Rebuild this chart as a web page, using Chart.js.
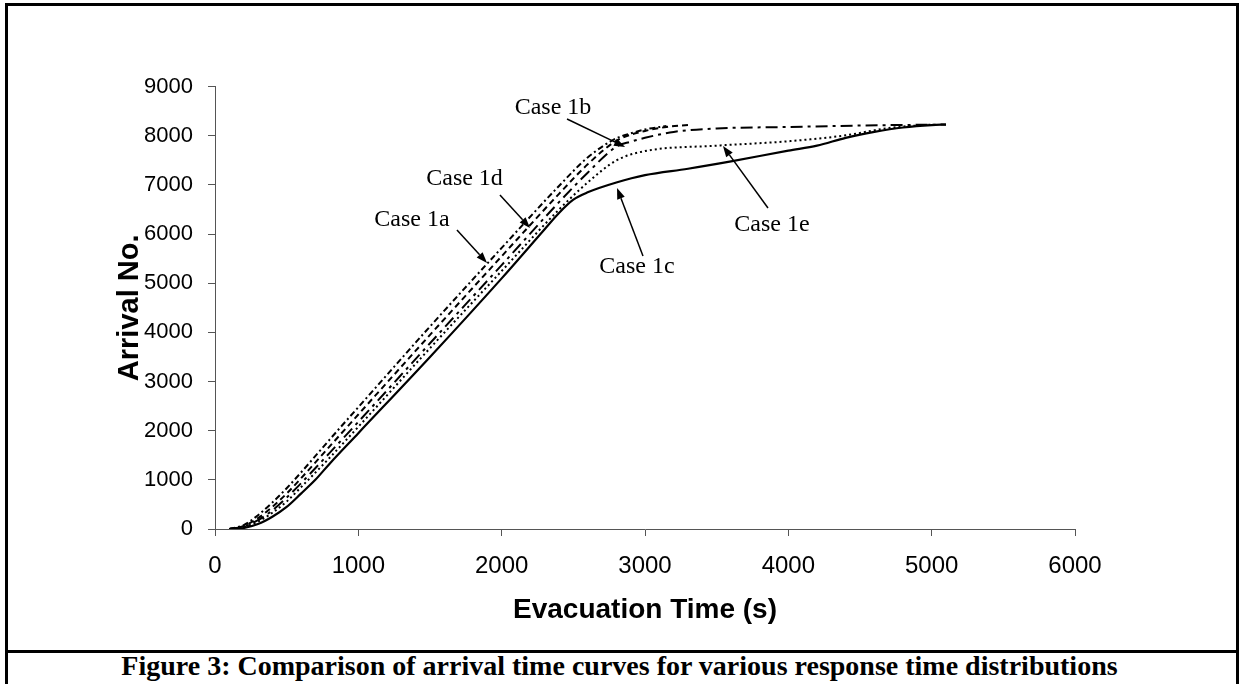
<!DOCTYPE html>
<html>
<head>
<meta charset="utf-8">
<script src="https://cdn.jsdelivr.net/npm/chart.js@4.4.1/dist/chart.umd.min.js"></script>
<style>
    html, body { margin: 0; padding: 0; background: #fff; }
    #page { position: relative; width: 1239px; height: 684px; overflow: hidden; background: #fff; }
    #frame { position: absolute; left: 5px; top: 3px; width: 1228px; height: 690px;
             border-left: 3px solid #000; border-right: 3px solid #000; border-top: 3px solid #000; }
    #sep { position: absolute; left: 5px; top: 650px; width: 1234px; height: 3px; background: #000; }
    #caption { position: absolute; left: 0; top: 652px; width: 1239px; text-align: center;
               font: bold 28px "Liberation Serif", "Times New Roman", serif; line-height: 28px; color: #000; }
    canvas { position: absolute; left: 0; top: 0; }
</style>
</head>
<body>
<div id="page">
    <div id="frame"></div>
    <div id="sep"></div>
    <div id="caption">Figure 3: Comparison of arrival time curves for various response time distributions</div>
    <canvas id="chart" width="1239" height="684"></canvas>
</div>
<script>
// Case 1a (short dash-dot)
const case1aTime  = [100, 200, 300, 400, 500, 600, 800, 1000, 1500, 2000, 2400, 2600, 2800, 2900, 3000, 3150];
const case1aCount = [0, 80, 280, 540, 830, 1150, 1820, 2480, 4120, 5720, 6980, 7560, 7950, 8050, 8130, 8200];
// Case 1b (long dash-dot)
const case1bTime  = [100, 200, 300, 400, 500, 600, 800, 1000, 1500, 2000, 2400, 2600, 2800, 2900, 3000, 3200, 3500, 4000, 4500, 5100];
const case1bCount = [0, 50, 180, 380, 640, 930, 1550, 2180, 3780, 5370, 6650, 7250, 7780, 7880, 7960, 8080, 8150, 8180, 8210, 8230];
// Case 1c (solid)
const case1cTime  = [100, 200, 300, 400, 500, 600, 700, 800, 1000, 1500, 2000, 2300, 2400, 2500, 2600, 2800, 3000, 3300, 3600, 4000, 4200, 4400, 4600, 4800, 5000, 5100];
const case1cCount = [0, 20, 100, 250, 450, 720, 1000, 1330, 1950, 3500, 5100, 6100, 6430, 6700, 6850, 7050, 7200, 7330, 7480, 7700, 7800, 7960, 8080, 8170, 8220, 8230];
// Case 1d (dashed)
const case1dTime  = [100, 200, 300, 400, 500, 600, 800, 1000, 1500, 2000, 2400, 2600, 2800, 3000, 3150, 3300];
const case1dCount = [0, 60, 220, 450, 720, 1030, 1680, 2330, 3950, 5550, 6820, 7420, 7900, 8100, 8180, 8220];
// Case 1e (dotted)
const case1eTime  = [100, 200, 300, 400, 500, 600, 800, 1000, 1500, 2000, 2400, 2600, 2800, 3000, 3500, 4000, 4400, 4700, 5000];
const case1eCount = [0, 40, 150, 330, 560, 850, 1450, 2080, 3680, 5250, 6500, 7050, 7500, 7690, 7800, 7890, 8010, 8160, 8230];

const xTicks = [0, 1000, 2000, 3000, 4000, 5000, 6000];
const yTicks = [0, 1000, 2000, 3000, 4000, 5000, 6000, 7000, 8000, 9000];

// callouts: label text, label position, arrow tail, arrow tip (data units)
const callouts = [
    { text: 'Case 1b', at: [2358, 8567], from: [2456, 8343], to: [2861, 7774] },
    { text: 'Case 1d', at: [1741, 7122], from: [1988, 6797], to: [2198, 6125] },
    { text: 'Case 1a', at: [1374, 6288], from: [1688, 6085], to: [1898, 5413] },
    { text: 'Case 1e', at: [3886, 6186], from: [3858, 6532], to: [3544, 7794] },
    { text: 'Case 1c', at: [2944, 5332], from: [2986, 5555], to: [2805, 6939] }
];

function toPoints(times, counts) {
    return times.map((t, i) => ({ x: t, y: counts[i] }));
}

function makeSet(label, times, counts, dash, width) {
    return {
        label: label,
        data: toPoints(times, counts),
        borderColor: '#000',
        borderWidth: width,
        borderDash: dash,
        pointRadius: 0,
        fill: false,
        cubicInterpolationMode: 'monotone'
    };
}

const calloutPlugin = {
    id: 'callouts',
    afterDatasetsDraw(chart) {
        const { ctx, scales: { x, y } } = chart;
        ctx.save();
        ctx.fillStyle = '#000';
        ctx.strokeStyle = '#000';
        ctx.lineWidth = 1.5;
        ctx.font = '24px "Liberation Serif", "Times New Roman", serif';
        ctx.textAlign = 'center';
        ctx.textBaseline = 'middle';
        callouts.forEach(c => {
            ctx.fillText(c.text, x.getPixelForValue(c.at[0]), y.getPixelForValue(c.at[1]));
            const x0 = x.getPixelForValue(c.from[0]), y0 = y.getPixelForValue(c.from[1]);
            const x1 = x.getPixelForValue(c.to[0]), y1 = y.getPixelForValue(c.to[1]);
            const ang = Math.atan2(y1 - y0, x1 - x0);
            const head = 11, half = 4;
            ctx.beginPath();
            ctx.moveTo(x0, y0);
            ctx.lineTo(x1 - head * Math.cos(ang), y1 - head * Math.sin(ang));
            ctx.stroke();
            ctx.beginPath();
            ctx.moveTo(x1, y1);
            ctx.lineTo(x1 - head * Math.cos(ang) + half * Math.sin(ang), y1 - head * Math.sin(ang) - half * Math.cos(ang));
            ctx.lineTo(x1 - head * Math.cos(ang) - half * Math.sin(ang), y1 - head * Math.sin(ang) + half * Math.cos(ang));
            ctx.closePath();
            ctx.fill();
        });
        ctx.restore();
    }
};

document.addEventListener("DOMContentLoaded", function() {
    const ctx = document.getElementById('chart');
    new Chart(ctx, {
        type: 'line',
        data: {
            datasets: [
                makeSet('Case 1c', case1cTime, case1cCount, [], 2.2),
                makeSet('Case 1e', case1eTime, case1eCount, [2, 3], 2),
                makeSet('Case 1b', case1bTime, case1bCount, [12, 5, 3, 5], 2),
                makeSet('Case 1d', case1dTime, case1dCount, [6, 4], 2),
                makeSet('Case 1a', case1aTime, case1aCount, [6, 3, 2, 3], 2)
            ]
        },
        options: {
            responsive: false,
            animation: false,
            devicePixelRatio: 1,
            layout: { padding: { left: 112.6, top: 86.7, right: 164, bottom: 57.2 } },
            plugins: {
                legend: { display: false },
                tooltip: { enabled: false }
            },
            scales: {
                x: {
                    type: 'linear',
                    min: 0,
                    max: 6000,
                    afterBuildTicks: scale => { scale.ticks = xTicks.map(v => ({ value: v })); },
                    afterFit: scale => { scale.height = 97.8; },
                    ticks: {
                        color: '#000',
                        padding: 16,
                        maxRotation: 0,
                        callback: v => String(v),
                        font: { family: '"Liberation Sans", Arial, sans-serif', size: 24 }
                    },
                    grid: { drawOnChartArea: false, drawTicks: true, tickLength: 7, color: '#555', lineWidth: 1 },
                    border: { display: true, color: '#555', width: 1 },
                    title: {
                        display: true,
                        text: 'Evacuation Time (s)',
                        color: '#000',
                        padding: 0,
                        font: { family: '"Liberation Sans", Arial, sans-serif', size: 28, weight: 'bold' }
                    }
                },
                y: {
                    type: 'linear',
                    min: 0,
                    max: 9000,
                    afterBuildTicks: scale => { scale.ticks = yTicks.map(v => ({ value: v })); },
                    afterFit: scale => { scale.width = 102.4; },
                    ticks: {
                        color: '#000',
                        padding: 15,
                        callback: v => String(v),
                        font: { family: '"Liberation Sans", Arial, sans-serif', size: 22 }
                    },
                    grid: { drawOnChartArea: false, drawTicks: true, tickLength: 7, color: '#555', lineWidth: 1 },
                    border: { display: true, color: '#555', width: 1 },
                    title: {
                        display: true,
                        text: 'Arrival No.',
                        color: '#000',
                        padding: 0,
                        font: { family: '"Liberation Sans", Arial, sans-serif', size: 29, weight: 'bold' }
                    }
                }
            }
        },
        plugins: [calloutPlugin]
    });
});
</script>
</body>
</html>
